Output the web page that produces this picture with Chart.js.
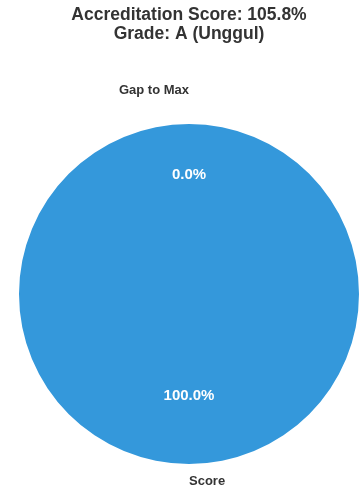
<!DOCTYPE html>
<html lang="en">
<head>
    <meta charset="UTF-8">
    <title>Accreditation Score</title>
    <style>
        * {
            margin: 0;
            padding: 0;
            box-sizing: border-box;
        }

        body {
            background: #fff;
        }

        .chart-container {
            width: 363px;
            height: 492px;
        }
    </style>
    <script src="https://cdn.jsdelivr.net/npm/chart.js"></script>
</head>
<body>
    <div class="chart-container">
        <canvas id="scoreChart"></canvas>
    </div>

    <script>
        // Pie data
        const categories = ['Score', 'Gap to Max'];
        const values = [100, 0];
        const scorePercent = 105.8;
        const grade = 'A (Unggul)';

        const FONT = "'Liberation Sans', Arial, sans-serif";

        // Draws category names outside and percentages inside each slice
        const sliceLabels = {
            id: 'sliceLabels',
            afterDraw(chart, args, opts) {
                const ctx = chart.ctx;
                const arcs = chart.getDatasetMeta(0).data;
                const total = values.reduce((a, b) => a + b, 0);
                ctx.save();
                ctx.textBaseline = 'middle';
                arcs.forEach((arc, i) => {
                    const { x, y, startAngle, endAngle, outerRadius } = arc.getProps(['x', 'y', 'startAngle', 'endAngle', 'outerRadius'], true);
                    const mid = (startAngle + endAngle) / 2;
                    const dx = Math.cos(mid);
                    const dy = Math.sin(mid);
                    const ex = opts.explode[i] || 0;

                    // category label
                    const lr = outerRadius * (opts.labelDistance + ex);
                    ctx.font = 'bold 13px ' + FONT;
                    ctx.fillStyle = '#333333';
                    ctx.textAlign = dx >= 0 ? 'left' : 'right';
                    ctx.fillText(categories[i], x + dx * lr, y + dy * lr);

                    // percentage label
                    const pr = outerRadius * (opts.pctDistance + ex);
                    ctx.font = 'bold 15px ' + FONT;
                    ctx.fillStyle = '#ffffff';
                    ctx.textAlign = 'center';
                    ctx.fillText((values[i] / total * 100).toFixed(1) + '%', x + dx * pr, y + dy * pr);
                });
                ctx.restore();
            }
        };

        const ctx = document.getElementById('scoreChart').getContext('2d');
        const scoreChart = new Chart(ctx, {
            type: 'pie',
            data: {
                labels: categories,
                datasets: [{
                    data: values,
                    backgroundColor: ['#3498db', '#e74c3c'],
                    borderWidth: 0
                }]
            },
            options: {
                responsive: true,
                maintainAspectRatio: false,
                animation: false,
                events: [],
                layout: {
                    padding: { left: 19, right: 4, top: 0, bottom: 28 }
                },
                plugins: {
                    legend: { display: false },
                    tooltip: { enabled: false },
                    title: {
                        display: true,
                        text: ['Accreditation Score: ' + scorePercent.toFixed(1) + '%', 'Grade: ' + grade],
                        color: '#333333',
                        font: { family: FONT, size: 17.5, weight: 'bold', lineHeight: 1.1 },
                        padding: { top: 5.5, bottom: 80 }
                    },
                    sliceLabels: {
                        explode: [0, 0.1],
                        labelDistance: 1.1,
                        pctDistance: 0.6
                    }
                }
            },
            plugins: [sliceLabels]
        });
    </script>
</body>
</html>
